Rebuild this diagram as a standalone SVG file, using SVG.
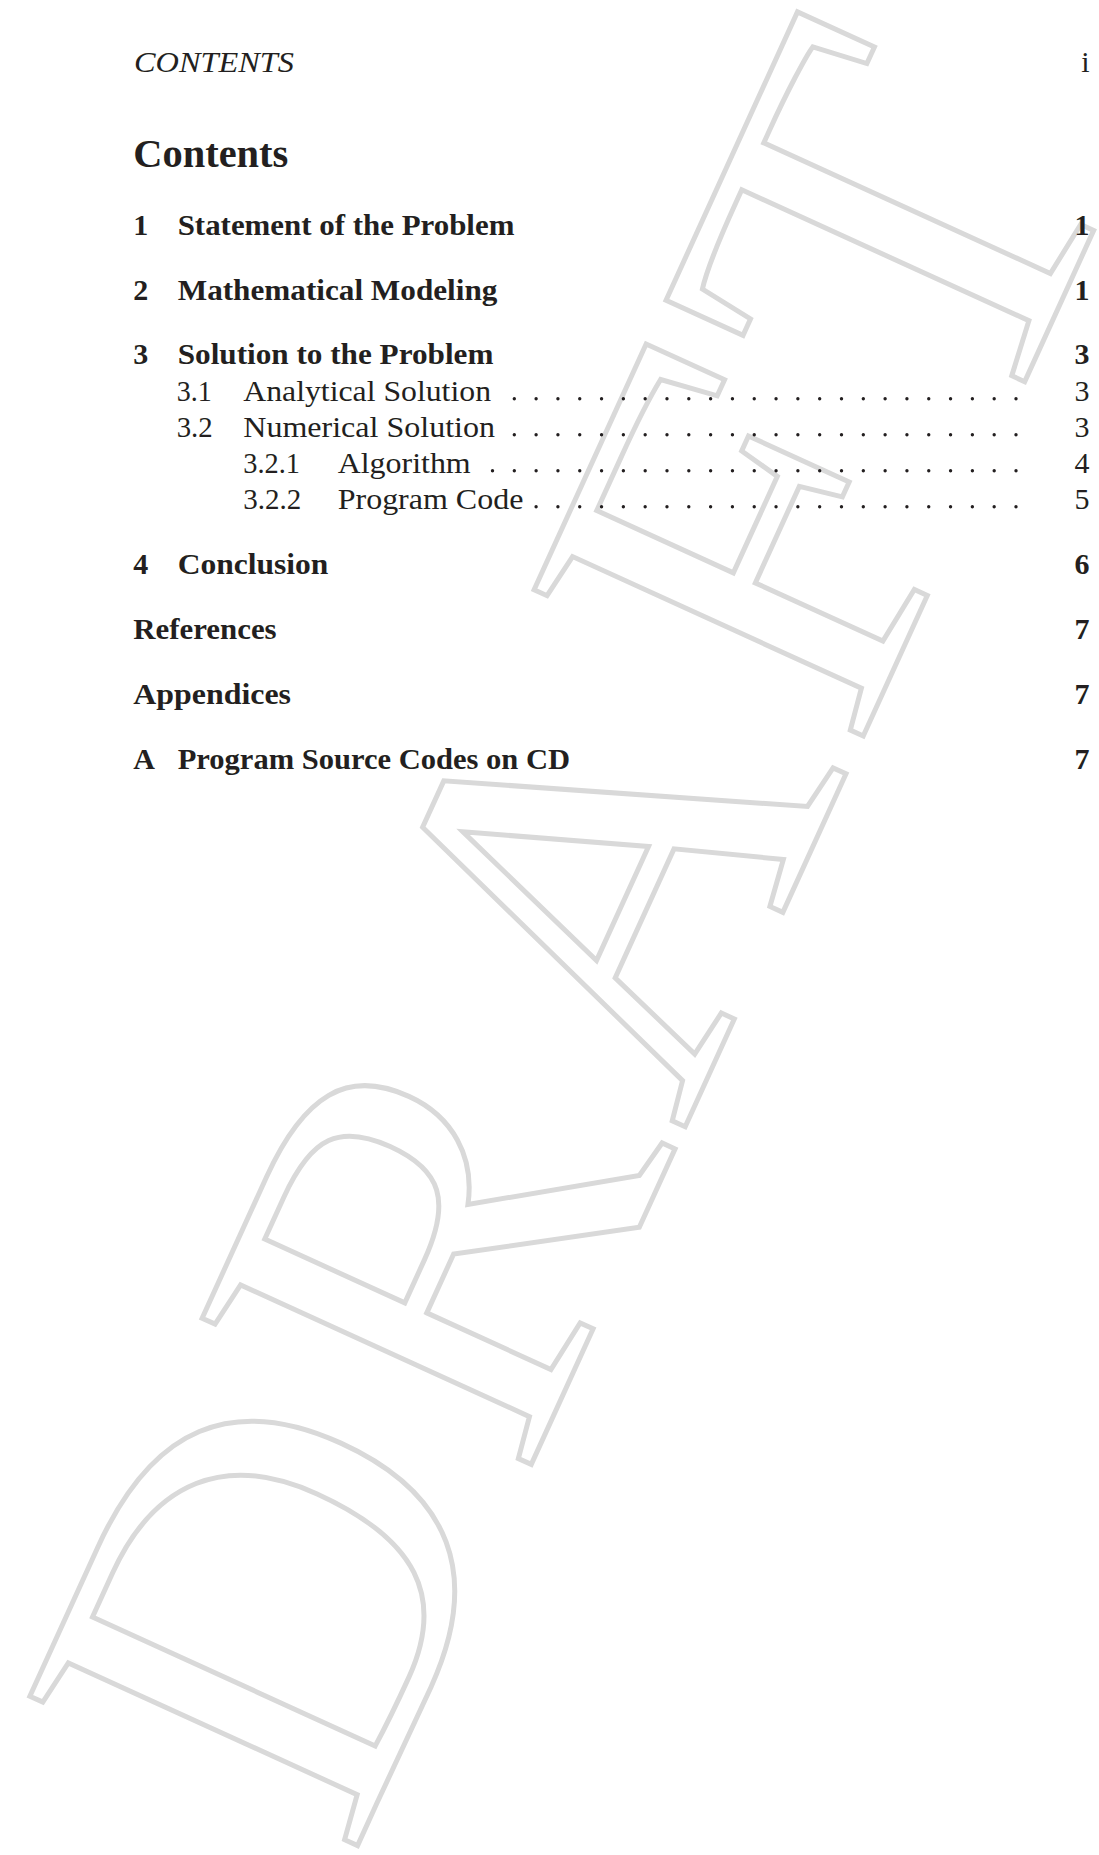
<svg xmlns="http://www.w3.org/2000/svg" width="1099" height="1855" viewBox="0 0 1099 1855">
<style>
.t{font-family:"Liberation Serif","Times New Roman",serif;fill:#231f20;font-size:30px}
.b{font-weight:bold}
.i{font-style:italic}
.r{text-anchor:end}
.wm{font-family:"Liberation Serif","Times New Roman",serif;font-size:550px;fill:none;stroke:#d9d9d9;stroke-width:5}
.dots{fill:none;stroke:#231f20;stroke-width:3.4;stroke-linecap:round;stroke-dasharray:0 21.813}
</style>
<rect width="1099" height="1855" fill="#ffffff"/>
<g id="watermark">
<text class="wm" transform="translate(351,1860) rotate(-65.5)" x="0" y="0" textLength="1876" lengthAdjust="spacing">DRAFT</text>
</g>
<g id="header">
<text class="t i" x="134" y="71.7" textLength="160" lengthAdjust="spacingAndGlyphs">CONTENTS</text>
<text class="t r" x="1089.5" y="71.7">i</text>
</g>
<g id="title">
<text class="t b" x="133.3" y="166.7" style="font-size:39px" textLength="155" lengthAdjust="spacingAndGlyphs">Contents</text>
</g>
<g id="toc-1">
<text class="t b" x="133.3" y="235">1</text>
<text class="t b" x="177.7" y="235" textLength="336.7" lengthAdjust="spacingAndGlyphs">Statement of the Problem</text>
<text class="t b r" x="1089.5" y="235">1</text>
</g>
<g id="toc-2">
<text class="t b" x="133.3" y="299.5">2</text>
<text class="t b" x="177.7" y="299.5" textLength="319.7" lengthAdjust="spacingAndGlyphs">Mathematical Modeling</text>
<text class="t b r" x="1089.5" y="299.5">1</text>
</g>
<g id="toc-3">
<text class="t b" x="133.3" y="364.3">3</text>
<text class="t b" x="177.7" y="364.3" textLength="315.7" lengthAdjust="spacingAndGlyphs">Solution to the Problem</text>
<text class="t b r" x="1089.5" y="364.3">3</text>
</g>
<g id="toc-3-1">
<text class="t" x="176.7" y="400.5" textLength="35" lengthAdjust="spacingAndGlyphs">3.1</text>
<text class="t" x="243.3" y="400.5" textLength="247.7" lengthAdjust="spacingAndGlyphs">Analytical Solution</text>
<text class="t r" x="1089.5" y="400.5">3</text>
</g>
<g id="toc-3-2">
<text class="t" x="176.7" y="436.5" textLength="36" lengthAdjust="spacingAndGlyphs">3.2</text>
<text class="t" x="243.3" y="436.5" textLength="251.7" lengthAdjust="spacingAndGlyphs">Numerical Solution</text>
<text class="t r" x="1089.5" y="436.5">3</text>
</g>
<g id="toc-3-2-1">
<text class="t" x="243.3" y="472.5" textLength="56.7" lengthAdjust="spacingAndGlyphs">3.2.1</text>
<text class="t" x="337.7" y="472.5" textLength="133" lengthAdjust="spacingAndGlyphs">Algorithm</text>
<text class="t r" x="1089.5" y="472.5">4</text>
</g>
<g id="toc-3-2-2">
<text class="t" x="243.3" y="508.5" textLength="58" lengthAdjust="spacingAndGlyphs">3.2.2</text>
<text class="t" x="337.7" y="508.5" textLength="185.7" lengthAdjust="spacingAndGlyphs">Program Code</text>
<text class="t r" x="1089.5" y="508.5">5</text>
</g>
<g id="toc-4">
<text class="t b" x="133.3" y="574.3">4</text>
<text class="t b" x="177.7" y="574.3" textLength="150.7" lengthAdjust="spacingAndGlyphs">Conclusion</text>
<text class="t b r" x="1089.5" y="574.3">6</text>
</g>
<g id="toc-references">
<text class="t b" x="133.3" y="639.3" textLength="143.3" lengthAdjust="spacingAndGlyphs">References</text>
<text class="t b r" x="1089.5" y="639.3">7</text>
</g>
<g id="toc-appendices">
<text class="t b" x="133.3" y="704.3" textLength="157.7" lengthAdjust="spacingAndGlyphs">Appendices</text>
<text class="t b r" x="1089.5" y="704.3">7</text>
</g>
<g id="toc-a">
<text class="t b" x="133.3" y="769.3">A</text>
<text class="t b" x="177.7" y="769.3" textLength="392.3" lengthAdjust="spacingAndGlyphs">Program Source Codes on CD</text>
<text class="t b r" x="1089.5" y="769.3">7</text>
</g>
<g id="leaders">
<line class="dots" x1="514.3" y1="398.8" x2="1016.5" y2="398.8"/>
<line class="dots" x1="514.3" y1="434.8" x2="1016.5" y2="434.8"/>
<line class="dots" x1="492.5" y1="470.8" x2="1016.5" y2="470.8"/>
<line class="dots" x1="536.1" y1="506.8" x2="1016.5" y2="506.8"/>
</g>
</svg>
